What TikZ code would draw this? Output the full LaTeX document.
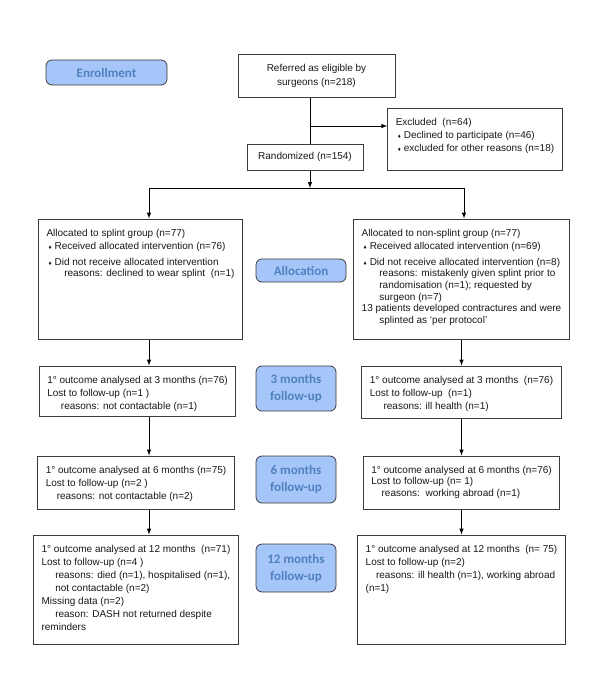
\documentclass[tikz,border=0pt]{standalone}
\usepackage{fontspec}
\setmainfont{Liberation Sans}
\newfontfamily\stagefont{Carlito}
\usetikzlibrary{positioning}

\definecolor{stagefill}{RGB}{166,198,250}
\definecolor{stagetext}{RGB}{79,129,189}
\definecolor{boxline}{RGB}{60,60,60}
\definecolor{bodytext}{RGB}{24,24,24}

\tikzstyle{block} = [rectangle, draw=boxline, line width=1pt, fill=white, inner xsep=8pt, inner ysep=0pt, text=bodytext, font=\fontsize{10}{13}\selectfont]
\tikzstyle{stage} = [rectangle, draw=boxline, line width=0.8pt, fill=stagefill, rounded corners=6pt, inner sep=0pt, text=stagetext, align=center, font=\stagefont\bfseries\fontsize{13}{17}\selectfont]
\tikzstyle{arrow} = [draw, line width=1pt, -latex]
\tikzstyle{line} = [draw, line width=1pt]

% box text: width, height, rows
\newcommand{\boxtext}[3]{\parbox[c][#2][t]{#1}{#3}}
\newcommand{\toprow}[1]{\hbox{\rule{0pt}{17pt}#1}}
\newcommand{\row}[2][0pt]{\hbox{\hspace*{#1}#2}}
\newcommand{\bul}{\hspace*{2pt}{\fontsize{6}{6}\selectfont ♦}\hspace{3pt}}

\begin{document}
\begin{tikzpicture}[node distance=1cm, auto]
    \useasboundingbox (0,0) rectangle (600pt,-677pt);

    \node[block, align=center, inner sep=0pt, minimum width=157pt, minimum height=42pt, font=\fontsize{10}{14.4}\selectfont] (referred) at (316.5pt,-76pt) {Referred as eligible by\\surgeons (n=218)};
    \node[stage, minimum width=121pt, minimum height=25pt, left of=referred, node distance=210pt, yshift=3.5pt] (enroll) {Enrollment};
    \node[block, below of=referred, node distance=63pt, xshift=158.5pt] (excluded) {\boxtext{172pt}{62pt}{
        \toprow{Excluded\ \ (n=64)}
        \row{\bul Declined to participate (n=46)}
        \row{\bul excluded for other reasons (n=18)}}};
    \node[block, inner sep=0pt, minimum width=116pt, minimum height=26pt, below of=referred, node distance=81pt, xshift=-11.5pt] (randomized) {Randomized (n=154)};

    % allocation
    \node[block, below of=randomized, node distance=122pt, xshift=-164.5pt] (splint) {\boxtext{199pt}{120pt}{\fontsize{10}{11.6}\selectfont
        \toprow{Allocated to splint group (n=77)}\vspace{2pt}
        \row{\bul Received allocated intervention (n=76)}\vspace{4pt}
        \row{\bul Did not receive allocated intervention}
        \row[17.7pt]{reasons: declined to wear splint\ \ (n=1)}}};
    \node[block, below of=randomized, node distance=122pt, xshift=156.5pt] (nonsplint) {\boxtext{199pt}{120pt}{\fontsize{10}{11.6}\selectfont
        \toprow{Allocated to non-splint group (n=77)}\vspace{2pt}
        \row{\bul Received allocated intervention (n=69)}\vspace{4pt}
        \row{\bul Did not receive allocated intervention (n=8)}
        \row[17.7pt]{reasons: mistakenly given splint prior to}
        \row[17.7pt]{randomisation (n=1); requested by}
        \row[17.7pt]{surgeon (n=7)}
        \row{13 patients developed contractures and were}
        \row[17.7pt]{splinted as ‘per protocol’}}};
    \node[stage, minimum width=90pt, minimum height=23pt, below of=randomized, node distance=113.5pt, xshift=-4pt] (alloc) {Allocation};

    % follow-up
    \node[block, below of=splint, node distance=112pt, xshift=-3pt] (left3) {\boxtext{193pt}{50pt}{
        \toprow{1° outcome analysed at 3 months (n=76)}
        \row{Lost to follow-up (n=1 )}
        \row[13.7pt]{reasons: not contactable (n=1)}}};
    \node[block, below of=nonsplint, node distance=113pt] (right3) {\boxtext{199pt}{52pt}{
        \toprow{1° outcome analysed at 3 months\ \ (n=76)}
        \row{Lost to follow-up\ \ (n=1)}
        \row[13.7pt]{reasons: ill health (n=1)}}};
    \node[stage, minimum width=80pt, minimum height=45pt, below of=alloc, node distance=118pt, xshift=-5pt] (lab3) {3 months\\follow-up};

    \node[block, below of=left3, node distance=91.5pt, xshift=-1.5pt] (left6) {\boxtext{190pt}{53pt}{
        \toprow{1° outcome analysed at 6 months (n=75)}
        \row{Lost to follow-up (n=2 )}
        \row[11pt]{reasons: not contactable (n=2)}}};
    \node[block, below of=right3, node distance=90.5pt] (right6) {\boxtext{199pt}{53pt}{\fontsize{10}{11.8}\selectfont
        \toprow{1° outcome analysed at 6 months (n=76)}
        \row{Lost to follow-up (n= 1)}
        \row[10.4pt]{reasons:\ \ working abroad (n=1)}}};
    \node[stage, minimum width=80pt, minimum height=47pt, below of=lab3, node distance=91pt] (lab6) {6 months\\follow-up};

    \node[block, below of=left6, node distance=107pt] (left12) {\boxtext{190pt}{109pt}{
        \toprow{1° outcome analysed at 12 months\ \ (n=71)}
        \row{Lost to follow-up (n=4 )}
        \row[13.7pt]{reasons: died (n=1), hospitalised (n=1),}
        \row[13.7pt]{not contactable (n=2)}
        \row{Missing data (n=2)}
        \row[13.7pt]{reason: DASH not returned despite}
        \row{reminders}}};
    \node[block, below of=right6, node distance=107pt] (right12) {\boxtext{199pt}{109pt}{
        \toprow{1° outcome analysed at 12 months\ \ (n= 75)}
        \row{Lost to follow-up (n=2)}
        \row[10.4pt]{reasons: ill health (n=1), working abroad}
        \row{(n=1)}}};
    \node[stage, minimum width=80pt, minimum height=48pt, below of=lab6, node distance=88.5pt] (lab12) {12 months\\follow-up};

    % lines
    \coordinate (split) at (310pt,-126pt);
    \coordinate (fork) at (310pt,-188pt);
    \coordinate (lcol) at (149pt,-188pt);
    \coordinate (rcol) at (464pt,-188pt);
    \draw [line] (referred.south -| split) -- (randomized.north -| split);
    \draw [arrow] (split) -- (split -| excluded.west);
    \draw [arrow] (randomized.south -| split) -- (fork);
    \draw [line] (lcol) -- (rcol);
    \draw [arrow] (lcol) -- (splint.north -| lcol);
    \draw [arrow] (rcol) -- (nonsplint.north -| rcol);
    \draw [arrow] (splint.south -| lcol) -- (left3.north -| lcol);
    \draw [arrow] (left3.south -| lcol) -- (left6.north -| lcol);
    \draw [arrow] (left6.south -| lcol) -- (left12.north -| lcol);
    \draw [arrow] (nonsplint.south) -- (right3.north);
    \draw [arrow] (right3.south) -- (right6.north);
    \draw [arrow] (right6.south) -- (right12.north);
\end{tikzpicture}
\end{document}
